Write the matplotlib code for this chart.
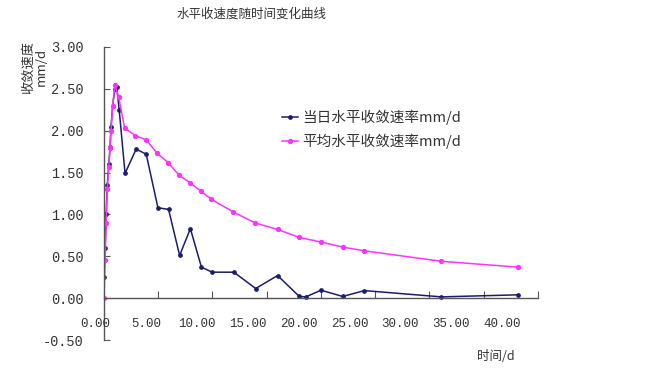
import matplotlib
matplotlib.use("Agg")
import matplotlib.pyplot as plt
import matplotlib.transforms as mtransforms
import numpy as np

plt.rcParams["font.family"] = ["Noto Sans CJK SC", "DejaVu Sans"]

# Datos
t_dia = [0, 0.1, 0.2, 0.3, 0.45, 0.55, 0.65, 0.8, 1.0, 1.17, 1.4, 1.94, 2.96,
         3.89, 4.97, 5.95, 6.97, 7.96, 8.98, 9.97, 11.97, 13.98, 16.0, 18.0,
         18.6, 20.0, 22.0, 24.0, 31.1, 38.2]
v_dia = [0.25, 0.6, 1.0, 1.35, 1.6, 1.8, 2.05, 2.3, 2.5, 2.52, 2.25, 1.49, 1.78,
         1.72, 1.08, 1.06, 0.51, 0.83, 0.37, 0.31, 0.31, 0.115, 0.27, 0.02,
         0.015, 0.095, 0.02, 0.09, 0.015, 0.04]

t_prom = [0, 0.1, 0.2, 0.3, 0.45, 0.55, 0.65, 0.8, 1.0, 1.35, 1.9, 2.9, 3.9,
          4.9, 5.9, 6.9, 7.9, 8.9, 9.9, 11.9, 13.9, 16.0, 18.0, 20.0, 22.0,
          24.0, 31.1, 38.2]
v_prom = [0, 0.45, 0.9, 1.3, 1.57, 1.79, 2.0, 2.3, 2.55, 2.4, 2.03, 1.94, 1.89,
          1.73, 1.62, 1.47, 1.38, 1.28, 1.18, 1.03, 0.90, 0.82, 0.725, 0.67,
          0.61, 0.565, 0.44, 0.37]

etiquetas_x = ["0.00", "5.00", "10.00", "15.00", "20.00", "25.00", "30.00",
               "35.00", "40.00"]
etiquetas_y = ["-0.50", "0.00", "0.50", "1.00", "1.50", "2.00", "2.50", "3.00"]

serie1 = "当日水平收敛速率mm/d"
serie2 = "平均水平收敛速率mm/d"
titulo = "水平收速度随时间变化曲线"

W, H = 651, 376
fig = plt.figure(figsize=(W / 100, H / 100), dpi=100)
ax = fig.add_axes([104 / W, 36 / H, 434 / W, 293 / H])

ax.plot(t_dia, v_dia, color="#1c1c6e", lw=1.1, marker="o", ms=2.4,
        label=serie1)
ax.plot(t_prom, v_prom, color="#ff33ff", lw=1.1, marker="o", ms=2.8,
        label=serie2)

ax.set_xlim(0, 40)
ax.set_ylim(-0.5, 3.0)

# Ejes: solo eje izquierdo y eje x en y = 0
ax.spines["top"].set_visible(False)
ax.spines["right"].set_visible(False)
ax.spines["bottom"].set_position(("data", 0))
for s in ("left", "bottom"):
    ax.spines[s].set_color("#555555")
    ax.spines[s].set_linewidth(1.0)

num_font = dict(family="Liberation Mono", size=9, color="#333333")

ax.set_yticks(np.arange(-0.5, 3.01, 0.5))
ax.set_yticklabels(etiquetas_y, fontdict=dict(num_font, size=9.8))
ax.tick_params(axis="y", direction="in", length=4, pad=15, color="#555555")

ax.set_xticks(np.arange(0, 41, 5))
ax.set_xticklabels([])
ax.tick_params(axis="x", direction="in", length=5, color="#555555")

# Etiquetas del eje x (desplazadas como en la imagen original)
trans = mtransforms.blended_transform_factory(ax.transData, fig.transFigure)
for i, lab in enumerate(etiquetas_x):
    ax.text(-0.83 + 4.69 * i, 1 - 324 / H, lab, transform=trans,
            ha="center", va="center", clip_on=False, **num_font)

ax.legend(loc="upper left", bbox_to_anchor=(282 / W, 1 - 110 / H),
          bbox_transform=fig.transFigure, frameon=False, fontsize=10.5,
          handlelength=1.1, handletextpad=0.3, labelspacing=0.55,
          borderaxespad=0, borderpad=0, labelcolor="#333333")

fig.text(252 / W, 1 - 14 / H, titulo, ha="center", va="center", fontsize=9,
         color="#333333")
fig.text(496 / W, 1 - 357 / H, "时间/d", ha="center", va="center", fontsize=9,
         color="#333333")
fig.text(35 / W, 1 - 67 / H, "收敛速度\nmm/d", rotation=90, ha="center",
         va="center", fontsize=9.5, color="#333333", linespacing=0.95)

fig.savefig("out.png", dpi=100)
